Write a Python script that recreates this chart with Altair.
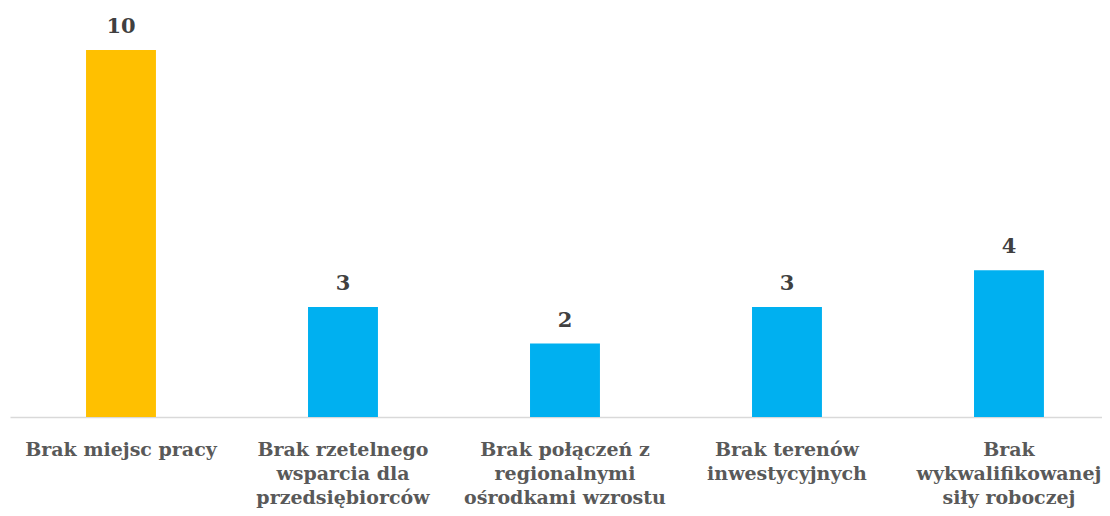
import altair as alt
import pandas as pd

categories = [
    "Brak miejsc pracy",
    "Brak rzetelnego\nwsparcia dla\nprzedsiębiorców",
    "Brak połączeń z\nregionalnymi\nośrodkami wzrostu",
    "Brak terenów\ninwestycyjnych",
    "Brak\nwykwalifikowanej\nsiły roboczej",
]
values = [10, 3, 2, 3, 4]
colors = ["#FFC000", "#00B0F0", "#00B0F0", "#00B0F0", "#00B0F0"]

df = pd.DataFrame({"cat": categories, "val": values, "col": colors})

FONT = "DejaVu Serif"

x = alt.X(
    "cat:N",
    sort=categories,
    title=None,
    scale=alt.Scale(paddingInner=0.685, paddingOuter=0.302, align=0.567),
    axis=alt.Axis(
        labelExpr="split(datum.label, '\\n')",
        labelAngle=0,
        labelFont=FONT,
        labelFontSize=19,
        labelFontWeight="bold",
        labelColor="#595959",
        labelLineHeight=24,
        labelBaseline="top",
        labelPadding=23,
        labelLimit=300,
        labelOverlap=False,
        ticks=False,
        domainColor="#D9D9D9",
        domainWidth=1.5,
    ),
)
y = alt.Y("val:Q", scale=alt.Scale(domain=[0, 10], nice=False), axis=None)

bars = alt.Chart(df).mark_bar().encode(
    x=x, y=y, color=alt.Color("col:N", scale=None)
)
text = alt.Chart(df).mark_text(
    font=FONT, fontSize=21, fontWeight="bold", color="#404040",
    baseline="alphabetic", dy=-17,
).encode(x=x, y=y, text="val:Q")

chart = (bars + text).properties(
    width=1092,
    height=367,
    autosize=alt.AutoSizeParams(type="none"),
    padding={"left": 2, "top": 42, "right": 0, "bottom": 100},
).configure(background="white").configure_view(strokeWidth=0)

chart.save("out.html", embed_options={"renderer": "svg", "actions": False})
